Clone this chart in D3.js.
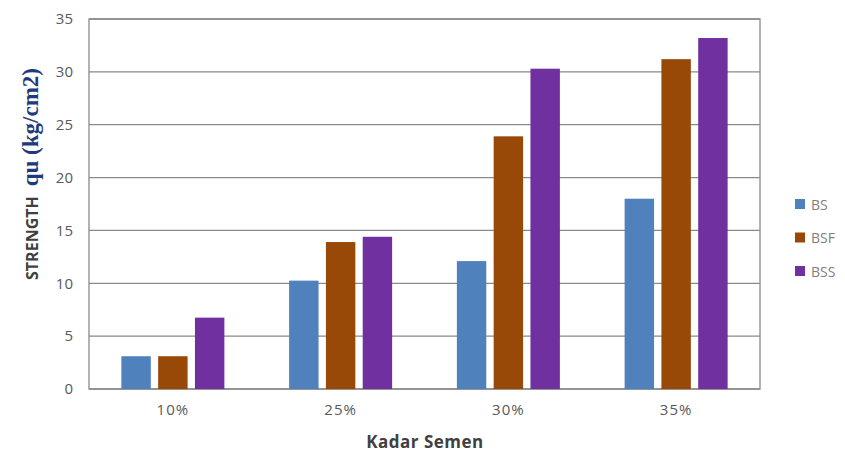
<!DOCTYPE html>
<html>
<head>
<meta charset="utf-8">
<script src="https://cdn.jsdelivr.net/npm/d3@7"></script>
<style>
html,body{margin:0;padding:0;background:#fff;}
svg{display:block;}
</style>
</head>
<body>
<svg id="chart" width="845" height="453"></svg>
<script>
const categories = ["10%", "25%", "30%", "35%"];
const seriesNames = ["BS", "BSF", "BSS"];
const bsValues  = [3.1, 10.25, 12.1, 18.0];
const bsfValues = [3.1, 13.9, 23.9, 31.2];
const bssValues = [6.75, 14.4, 30.3, 33.2];
const yTicks = [0, 5, 10, 15, 20, 25, 30, 35];
const colors = ["#4F81BD", "#984807", "#7030A0"];

const seriesValues = [bsValues, bsfValues, bssValues];

const svg = d3.select("#chart");
const m = {left: 89, right: 85, top: 19, bottom: 64};
const W = 845, H = 453;
const pw = W - m.left - m.right, ph = H - m.top - m.bottom;

const g = svg.append("g").attr("transform", `translate(${m.left},${m.top})`);

const x0 = d3.scaleBand().domain(categories).range([0, pw]).paddingInner(0).paddingOuter(0);
const x1 = d3.scaleBand().domain(seriesNames).range([0, x0.bandwidth()]).paddingInner(0.2).paddingOuter(0.88);
const y = d3.scaleLinear().domain([0, 35]).range([ph, 0]);

// gridlines
g.append("g").selectAll("line").data(yTicks).join("line")
  .attr("x1", 0).attr("x2", pw)
  .attr("y1", d => y(d)).attr("y2", d => y(d))
  .attr("stroke", "#8a8a8a").attr("stroke-width", 1.3);

// border
g.append("rect").attr("x", 0).attr("y", 0).attr("width", pw).attr("height", ph)
  .attr("fill", "none").attr("stroke", "#8a8a8a").attr("stroke-width", 1.3);

// y axis labels
const yAxis = d3.axisLeft(y).tickValues(yTicks).tickSize(0).tickPadding(16);
const ya = g.append("g").call(yAxis);
ya.select(".domain").remove();
ya.selectAll("text").attr("fill", "#595959").style("font-family", "'Open Sans', sans-serif").style("font-size", "15px");

// x axis labels
const xAxis = d3.axisBottom(x0).tickSize(0).tickPadding(15);
const xa = g.append("g").attr("transform", `translate(0,${ph})`).call(xAxis);
xa.select(".domain").remove();
xa.selectAll("text").attr("fill", "#595959").style("font-family", "'Open Sans', sans-serif").style("font-size", "15px").style("letter-spacing", "1px");

// bars
const groups = g.append("g").selectAll("g").data(categories).join("g")
  .attr("transform", d => `translate(${x0(d)},0)`);
groups.selectAll("rect").data((c, i) => seriesNames.map((s, j) => ({s, v: seriesValues[j][i], j})))
  .join("rect")
  .attr("x", d => x1(d.s))
  .attr("width", x1.bandwidth())
  .attr("y", d => y(d.v))
  .attr("height", d => y(0) - y(d.v))
  .attr("fill", d => colors[d.j]);

// legend
const lg = svg.append("g").attr("transform", "translate(795,199)");
const li = lg.selectAll("g").data(seriesNames).join("g")
  .attr("transform", (d, i) => `translate(0,${i * 33.5})`);
li.append("rect").attr("width", 10).attr("height", 10).attr("fill", (d, i) => colors[i]);
li.append("text").attr("x", 16).attr("y", 10.5).text(d => d)
  .attr("fill", "#7f7f7f").style("font-family", "'Open Sans', sans-serif").style("font-size", "14px");

// x title
svg.append("text").attr("x", 425).attr("y", 448).attr("text-anchor", "middle")
  .text("Kadar Semen").attr("fill", "#404040")
  .style("font-family", "'Open Sans', sans-serif").style("font-weight", "bold").style("font-size", "17px").style("letter-spacing", "0.5px");

// y title
const yt = svg.append("text").attr("transform", "translate(38,174) rotate(-90)").attr("text-anchor", "middle");
yt.append("tspan").text("STRENGTH").attr("fill", "#404040")
  .style("font-family", "'Open Sans', sans-serif").style("font-weight", "bold").style("font-size", "16px");
yt.append("tspan").text("qu (kg/cm2)").attr("dx", 10).attr("fill", "#1f3a7a")
  .style("font-family", "'Liberation Serif', 'Times New Roman', serif").style("font-weight", "bold").style("font-size", "23px");
</script>
</body>
</html>
